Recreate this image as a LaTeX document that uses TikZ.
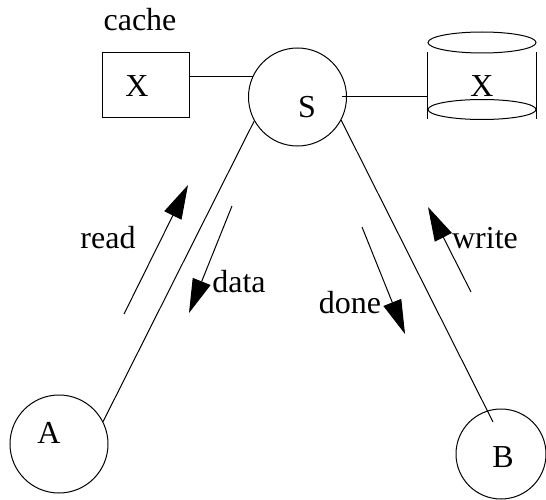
\documentclass[tikz,border=0pt]{standalone}
\usepackage{fontspec}
\setmainfont{Liberation Serif}
\usetikzlibrary{arrows.meta}
\begin{document}
\begin{tikzpicture}[x=1pt,y=-1pt,line width=1pt,
  station/.style={circle,draw,minimum size=98pt,inner sep=0pt},
  lbl/.style={anchor=base,inner sep=0pt,font=\fontsize{32}{36}\selectfont},
  msg/.style={-{Triangle[length=34pt,width=19pt]}}]
\useasboundingbox (0,0) rectangle (546,500);

% server, clients, cache and store
\node[station] (S) at (297.5,97) {};
\node[station] (A) at (59,444) {};
\node[station,minimum size=90pt] (B) at (501,454) {};
\node[draw,minimum width=87pt,minimum height=65pt,inner sep=0pt] (cachebox) at (145.5,85.5) {};
\node[minimum width=108pt,minimum height=66pt,inner sep=0pt] (store) at (482,86) {};

% disk outline
\draw ([yshift=10pt]store.north) ellipse [x radius=54pt,y radius=10.5pt];
\draw ([yshift=10pt]store.south) ellipse [x radius=54pt,y radius=10pt];
\draw (store.north west) -- (store.south west);
\draw (store.north east) -- (store.south east);

% labels
\node[lbl] (cachelbl) at (140,31) {cache};
\node[lbl] (xcache) at (137,97) {X};
\node[lbl] (slbl) at (307,118) {S};
\node[lbl] (xstore) at (482,97) {X};
\node[lbl] (albl) at (49,443) {A};
\node[lbl] (blbl) at (503,467) {B};
\node[lbl] (readlbl) at (108,248) {read};
\node[lbl] (datalbl) at (239,292) {data};
\node[lbl] (donelbl) at (350,313) {done};
\node[lbl] (writelbl) at (485,248) {write};

% links
\coordinate (bend) at (493,422);
\draw (S.209) -- (A.27);
\draw (S.332) -- (bend);
\draw (cachebox.east |- S.155) -- (S.155);
\draw ([xshift=-5pt]S.east) -- (store.west |- S.east);

% messages
\coordinate (r0) at (124,314); \coordinate (r1) at (188,185);
\coordinate (d0) at (232,206); \coordinate (d1) at (189,313);
\coordinate (n0) at (362,227); \coordinate (n1) at (405,334);
\coordinate (w0) at (471,292); \coordinate (w1) at (428,207);
\draw[msg] (r0) -- (r1);
\draw[msg] (d0) -- (d1);
\draw[msg] (n0) -- (n1);
\draw[msg] (w0) -- (w1);
\end{tikzpicture}
\end{document}
